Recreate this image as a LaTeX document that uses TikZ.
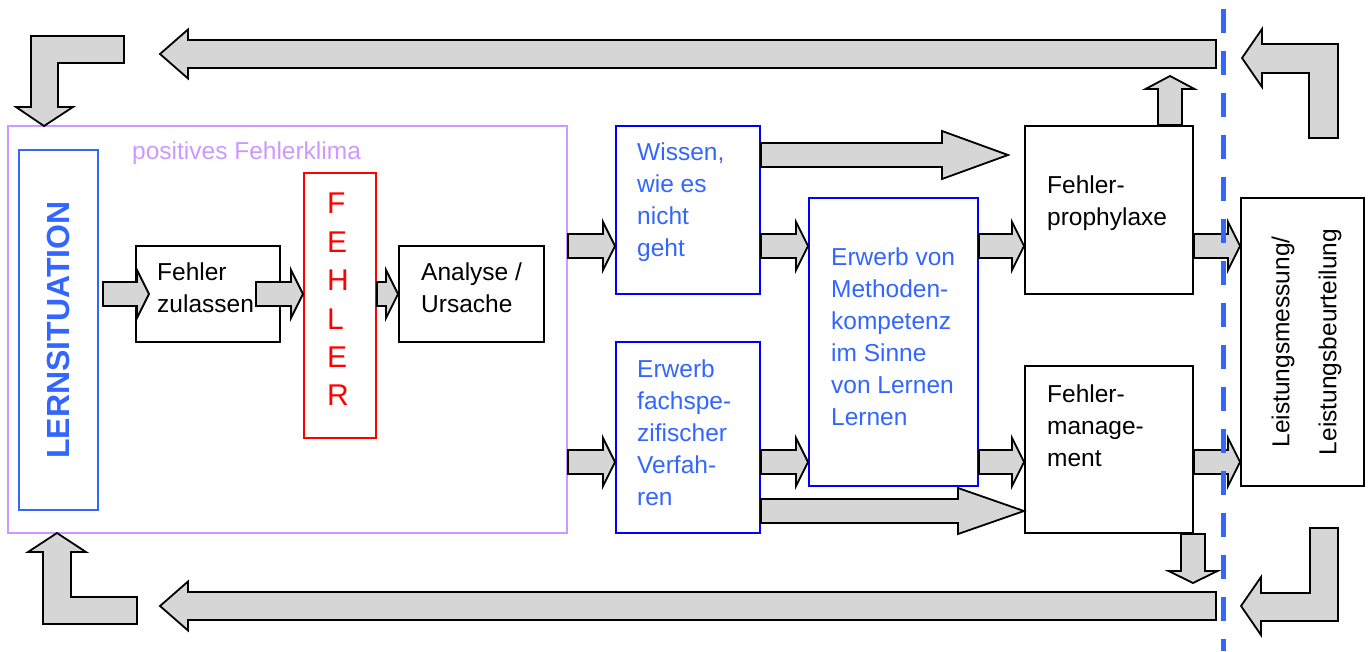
\documentclass[tikz,border=0pt]{standalone}
\usepackage{fontspec}
\setmainfont{Liberation Sans}
\usetikzlibrary{calc}
\definecolor{lernblau}{HTML}{3366FF}
\definecolor{kastenblau}{HTML}{0000FF}
\definecolor{klimalila}{HTML}{CC99FF}
\definecolor{pfeilgrau}{HTML}{D6D6D6}
% Blockpfeil: Schwanz, Spitze, halbe Breite, halbe Kopfbreite, Kopflaenge
\newcommand{\blockpfeil}[5]{%
  \coordinate (bp-s) at #1;
  \coordinate (bp-e) at #2;
  \coordinate (bp-k) at ($(bp-e)!#5!(bp-s)$);
  \draw[pfeil] ($(bp-s)!#3!90:(bp-e)$) -- ($(bp-k)!#3!-90:(bp-s)$) -- ($(bp-k)!#4!-90:(bp-s)$) -- (bp-e)
    -- ($(bp-k)!#4!90:(bp-s)$) -- ($(bp-k)!#3!90:(bp-s)$) -- ($(bp-s)!#3!-90:(bp-e)$) -- cycle;}
\begin{document}
\begin{tikzpicture}[x=1pt, y=-1pt, line join=miter,
	kasten/.style={draw, line width=2pt, inner sep=0pt},
	pfeil/.style={draw, line width=1.8pt, fill=pfeilgrau},
	txt/.style={anchor=north west, inner sep=0pt, align=left, font=\fontsize{24.5}{32}\selectfont}]
	\useasboundingbox (0,0) rectangle (1371,651);
	\foreach \n/\x/\y/\w/\h/\c in {klima/287.5/329.5/559/407/klimalila, lern/58.5/330/79/360/lernblau,
		zul/208/294/144/96/black, fehler/340/305.5/72/265/red, analyse/471.5/294/145/96/black,
		wissen/688/210/144/168/kastenblau, erwerb/688/437.5/144/191/kastenblau,
		methoden/893.5/342/169/288/kastenblau, prophylaxe/1109/210/168/168/black,
		management/1109/449.5/168/167/black, leistung/1302.5/342/123/288/black}
	\node[kasten, draw=\c, minimum width=\w, minimum height=\h] (\n) at (\x,\y) {};
	\coordinate (oben) at (0,246);
	\coordinate (unten) at (0,462);
	\coordinate (o-r) at (1216,54);
	\coordinate (o-l) at (160,54);
	\coordinate (u-r) at (1216,606);
	\coordinate (u-l) at (160,606);
	% Pfeile
	\blockpfeil{($(lern.east|-zul.west)+(4,0)$)}{($(zul.west)+(14,0)$)}{12pt}{24pt}{12pt}
	\blockpfeil{($(zul.east)+(-25,0)$)}{(fehler.west|-zul.west)}{12pt}{24pt}{12pt}
	\blockpfeil{(fehler.east|-analyse.west)}{(analyse.west)}{12pt}{24pt}{12pt}
	\foreach \r in {oben,unten}{
		\blockpfeil{(klima.east|-\r)}{(wissen.west|-\r)}{12pt}{24pt}{12pt}
		\blockpfeil{(wissen.east|-\r)}{(methoden.west|-\r)}{12pt}{24pt}{12pt}
		\blockpfeil{(methoden.east|-\r)}{(prophylaxe.west|-\r)}{12pt}{24pt}{12pt}
		\blockpfeil{(prophylaxe.east|-\r)}{(leistung.west|-\r)}{12pt}{24pt}{12pt}
	}
	\blockpfeil{($(wissen.north east)+(0,30)$)}{($(prophylaxe.north west)+(-16,30)$)}{12pt}{24pt}{66pt}
	\blockpfeil{($(erwerb.south east)+(0,-23)$)}{($(management.south west)+(0,-23)$)}{12pt}{23pt}{66pt}
	\blockpfeil{($(prophylaxe.north east)+(-24,0)$)}{($(prophylaxe.north east)+(-24,-49)$)}{12pt}{24.5pt}{13pt}
	\blockpfeil{($(management.south east)+(-1,0)$)}{($(management.south east)+(-1,49)$)}{12pt}{24.5pt}{12pt}
	\blockpfeil{(o-r)}{(o-l)}{14pt}{24.5pt}{28pt}
	\blockpfeil{(u-r)}{(u-l)}{14pt}{24.5pt}{28pt}
	\draw[pfeil] (124,36)--(31,36)--(31,107)--(16,107)--(44,126)--(73,107)--(58,107)--(58,63)--(124,63)--cycle;
	\draw[pfeil] (1242,58)--(1262,29)--(1262,44)--(1338,44)--(1338,138)--(1309,138)--(1309,73)--(1262,73)--(1262,87)--cycle;
	\draw[pfeil] (57,533)--(86,552)--(71,552)--(71,597)--(137,597)--(137,624)--(43,624)--(43,552)--(28,552)--cycle;
	\draw[pfeil] (1241,606)--(1261,577)--(1261,593)--(1310,593)--(1310,528)--(1338,528)--(1338,621)--(1261,621)--(1261,635)--cycle;
	% Texte
	\node[txt, text=klimalila] (klima-t) at (132,142) {positives Fehlerklima};
	\node[rotate=90, inner sep=0pt, text=lernblau, font=\fontsize{32}{38}\selectfont\bfseries] (lern-t) at (lern.center) {LERNSITUATION};
	\node[txt] (zul-t) at (157,263) {Fehler\\zulassen};
	\node[txt, text=red, font=\fontsize{30}{38.4}\selectfont] (fehler-t) at (327,193) {F\\E\\H\\L\\E\\R};
	\node[txt] (analyse-t) at (421,263) {Analyse /\\Ursache};
	\node[txt, text=lernblau] (wissen-t) at (637,143) {Wissen,\\wie es\\nicht\\geht};
	\node[txt, text=lernblau] (erwerb-t) at (637,360) {Erwerb\\fachspe-\\zifischer\\Verfah-\\ren};
	\node[txt, text=lernblau] (methoden-t) at (831,248) {Erwerb von\\Methoden-\\kompetenz\\im Sinne\\von Lernen\\Lernen};
	\node[txt] (prophylaxe-t) at (1047,176) {Fehler-\\prophylaxe};
	\node[txt] (management-t) at (1047,385) {Fehler-\\manage-\\ment};
	\node[rotate=90, inner sep=0pt, align=center, font=\fontsize{24.5}{47}\selectfont] (leistung-t) at ($(leistung.center)+(4,0)$) {Leistungsmessung/\\Leistungsbeurteilung};
	\draw[lernblau, line width=5pt, dash pattern=on 24pt off 18pt] (1223,9) -- (1223,651);
\end{tikzpicture}
\end{document}
